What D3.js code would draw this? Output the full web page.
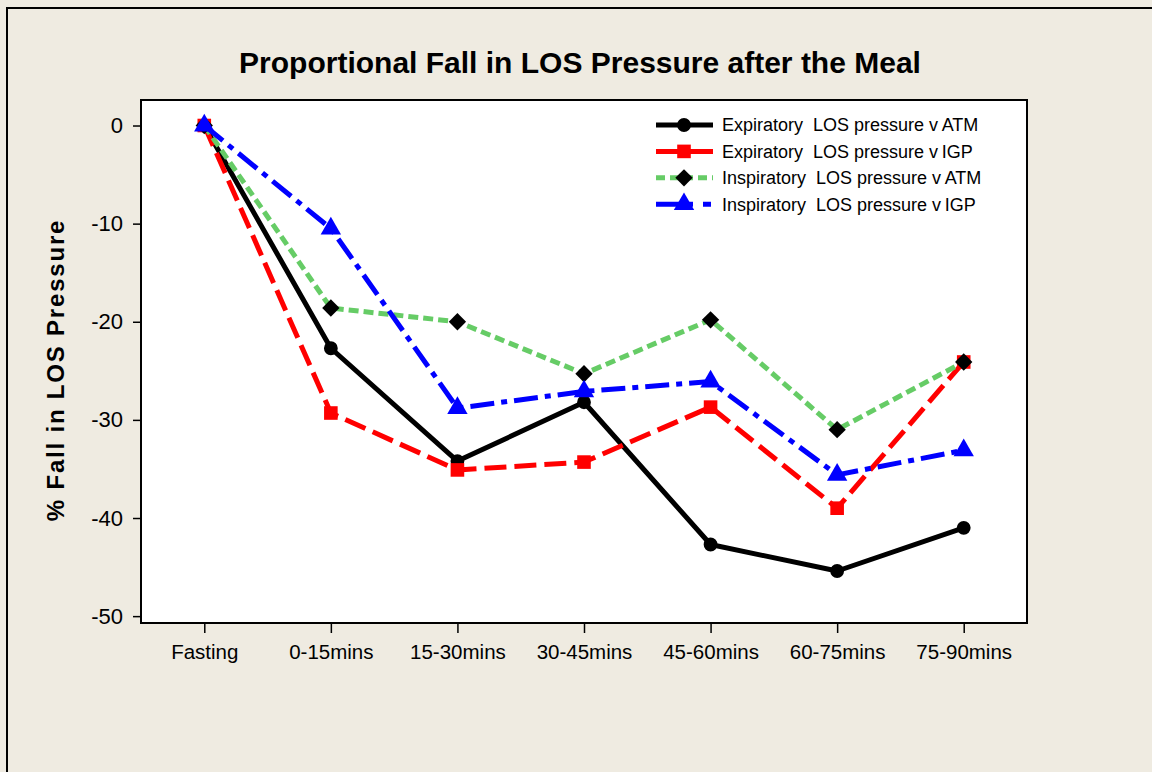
<!DOCTYPE html>
<html>
<head>
<meta charset="utf-8">
<script src="https://cdn.jsdelivr.net/npm/d3@7"></script>
<style>
  body { margin: 0; background: #efebe1; }
  text { font-family: Arial, "Liberation Sans", sans-serif; }
</style>
</head>
<body>
<div id="chart"></div>
<script>
const periods = ['Fasting', '0-15mins', '15-30mins', '30-45mins', '45-60mins', '60-75mins', '75-90mins']
const yTicks = [0, -10, -20, -30, -40, -50]

const expAtm = [0, -22.7, -34.2, -28.2, -42.7, -45.4, -41.0]
const expIgp = [0, -29.3, -35.1, -34.3, -28.7, -39.0, -24.1]
const inspAtm = [0, -18.6, -20.0, -25.3, -19.8, -31.0, -24.1]
const inspIgp = [0, -10.5, -28.8, -27.1, -26.1, -35.6, -33.1]

const seriesNames = [
  'Expiratory  LOS pressure v\u2009ATM',
  'Expiratory  LOS pressure v\u2009IGP',
  'Inspiratory  LOS pressure v\u2009ATM',
  'Inspiratory  LOS pressure v\u2009IGP'
]

const series = [
  { name: seriesNames[0], values: expAtm, color: '#000000', dash: null, marker: 'circle', markerColor: '#000000' },
  { name: seriesNames[1], values: expIgp, color: '#ff0000', dash: '22,8', marker: 'square', markerColor: '#ff0000' },
  { name: seriesNames[2], values: inspAtm, color: '#66cc66', dash: '10,5', marker: 'diamond', markerColor: '#000000' },
  { name: seriesNames[3], values: inspIgp, color: '#0000ff', dash: '24,7,6,7', marker: 'triangle', markerColor: '#0000ff' }
]

const W = 1152, H = 772
const plot = { left: 141, right: 1027, top: 100, bottom: 623 }

const svg = d3.select('#chart')
  .append('svg')
  .attr('width', W)
  .attr('height', H)

svg.append('rect')
  .attr('x', 0).attr('y', 0).attr('width', W).attr('height', H)
  .attr('fill', '#efebe1')

// outer frame
svg.append('rect')
  .attr('x', 7).attr('y', 8).attr('width', W + 20).attr('height', H + 20)
  .attr('fill', 'none').attr('stroke', '#000').attr('stroke-width', 2)

svg.append('rect')
  .attr('x', plot.left).attr('y', plot.top)
  .attr('width', plot.right - plot.left).attr('height', plot.bottom - plot.top)
  .attr('fill', '#fff')

const x = d3.scalePoint().domain(periods).range([plot.left, plot.right]).padding(0.5)
const y = d3.scaleLinear().domain([-50.7, 2.6]).range([plot.bottom, plot.top])

const xAxis = g =>
  g.attr('transform', `translate(0, ${plot.bottom})`)
    .call(d3.axisBottom(x).tickSize(10).tickPadding(11))
    .call(g => g.select('.domain').remove())
    .call(g => g.selectAll('line').attr('stroke', '#000').attr('stroke-width', 1.5))
    .call(g => g.selectAll('text').attr('font-size', 20.5).attr('fill', '#000')
      .attr('font-family', 'Arial, "Liberation Sans", sans-serif'))

const yAxis = g =>
  g.attr('transform', `translate(${plot.left}, 0)`)
    .call(d3.axisLeft(y).tickValues(yTicks).tickFormat(d => String(d)).tickSize(8).tickPadding(10))
    .call(g => g.select('.domain').remove())
    .call(g => g.selectAll('line').attr('stroke', '#000').attr('stroke-width', 1.5))
    .call(g => g.selectAll('text').attr('font-size', 22).attr('fill', '#000')
      .attr('font-family', 'Arial, "Liberation Sans", sans-serif'))

svg.append('g').call(xAxis)
svg.append('g').call(yAxis)

const line = d3.line()
  .x((d, i) => x(periods[i]))
  .y(d => y(d))

const markerPath = {
  circle: d3.symbol().type(d3.symbolCircle).size(150)(),
  square: d3.symbol().type(d3.symbolSquare).size(185)(),
  diamond: d3.symbol().type(d3.symbolSquare).size(150)(),
  triangle: d3.symbol().type(d3.symbolTriangle).size(180)()
}
const markerRotate = { circle: 0, square: 0, diamond: 45, triangle: 0 }

series.forEach(s => {
  svg.append('path')
    .datum(s.values)
    .attr('d', line)
    .attr('fill', 'none')
    .attr('stroke', s.color)
    .attr('stroke-width', 5)
    .attr('stroke-dasharray', s.dash)
    .attr('stroke-linejoin', 'round')

  svg.append('g')
    .selectAll('path')
    .data(s.values)
    .join('path')
    .attr('d', markerPath[s.marker])
    .attr('transform', (d, i) => `translate(${x(periods[i])}, ${y(d)}) rotate(${markerRotate[s.marker]})`)
    .attr('fill', s.markerColor)
})

// plot border on top
svg.append('rect')
  .attr('x', plot.left).attr('y', plot.top)
  .attr('width', plot.right - plot.left).attr('height', plot.bottom - plot.top)
  .attr('fill', 'none').attr('stroke', '#000').attr('stroke-width', 2)

svg.append('text')
  .attr('x', 580).attr('y', 73)
  .attr('text-anchor', 'middle')
  .attr('font-size', 30).attr('font-weight', 'bold')
  .text('Proportional Fall in LOS Pressure after the Meal')

svg.append('text')
  .attr('transform', `translate(64, 370) rotate(-90)`)
  .attr('text-anchor', 'middle')
  .attr('font-size', 24).attr('font-weight', 'bold')
  .attr('letter-spacing', 1.8)
  .text('% Fall in LOS Pressure')

// legend
const legend = svg.append('g')
  .selectAll('g')
  .data(series)
  .join('g')
  .attr('transform', (d, i) => `translate(656, ${125 + i * 26.4})`)

legend.append('line')
  .attr('x1', 0).attr('x2', 57).attr('y1', 0).attr('y2', 0)
  .attr('stroke', d => d.color)
  .attr('stroke-width', 5)
  .attr('stroke-dasharray', (d, i) => [null, null, '9,5', '37,10,8,10'][i])

legend.append('path')
  .attr('d', d => markerPath[d.marker])
  .attr('transform', d => `translate(28, 0) rotate(${markerRotate[d.marker]})`)
  .attr('fill', d => d.markerColor)

legend.append('text')
  .attr('x', 66).attr('y', 0).attr('dy', '0.35em')
  .attr('font-size', 18)
  .style('white-space', 'pre')
  .text(d => d.name)
</script>
</body>
</html>
